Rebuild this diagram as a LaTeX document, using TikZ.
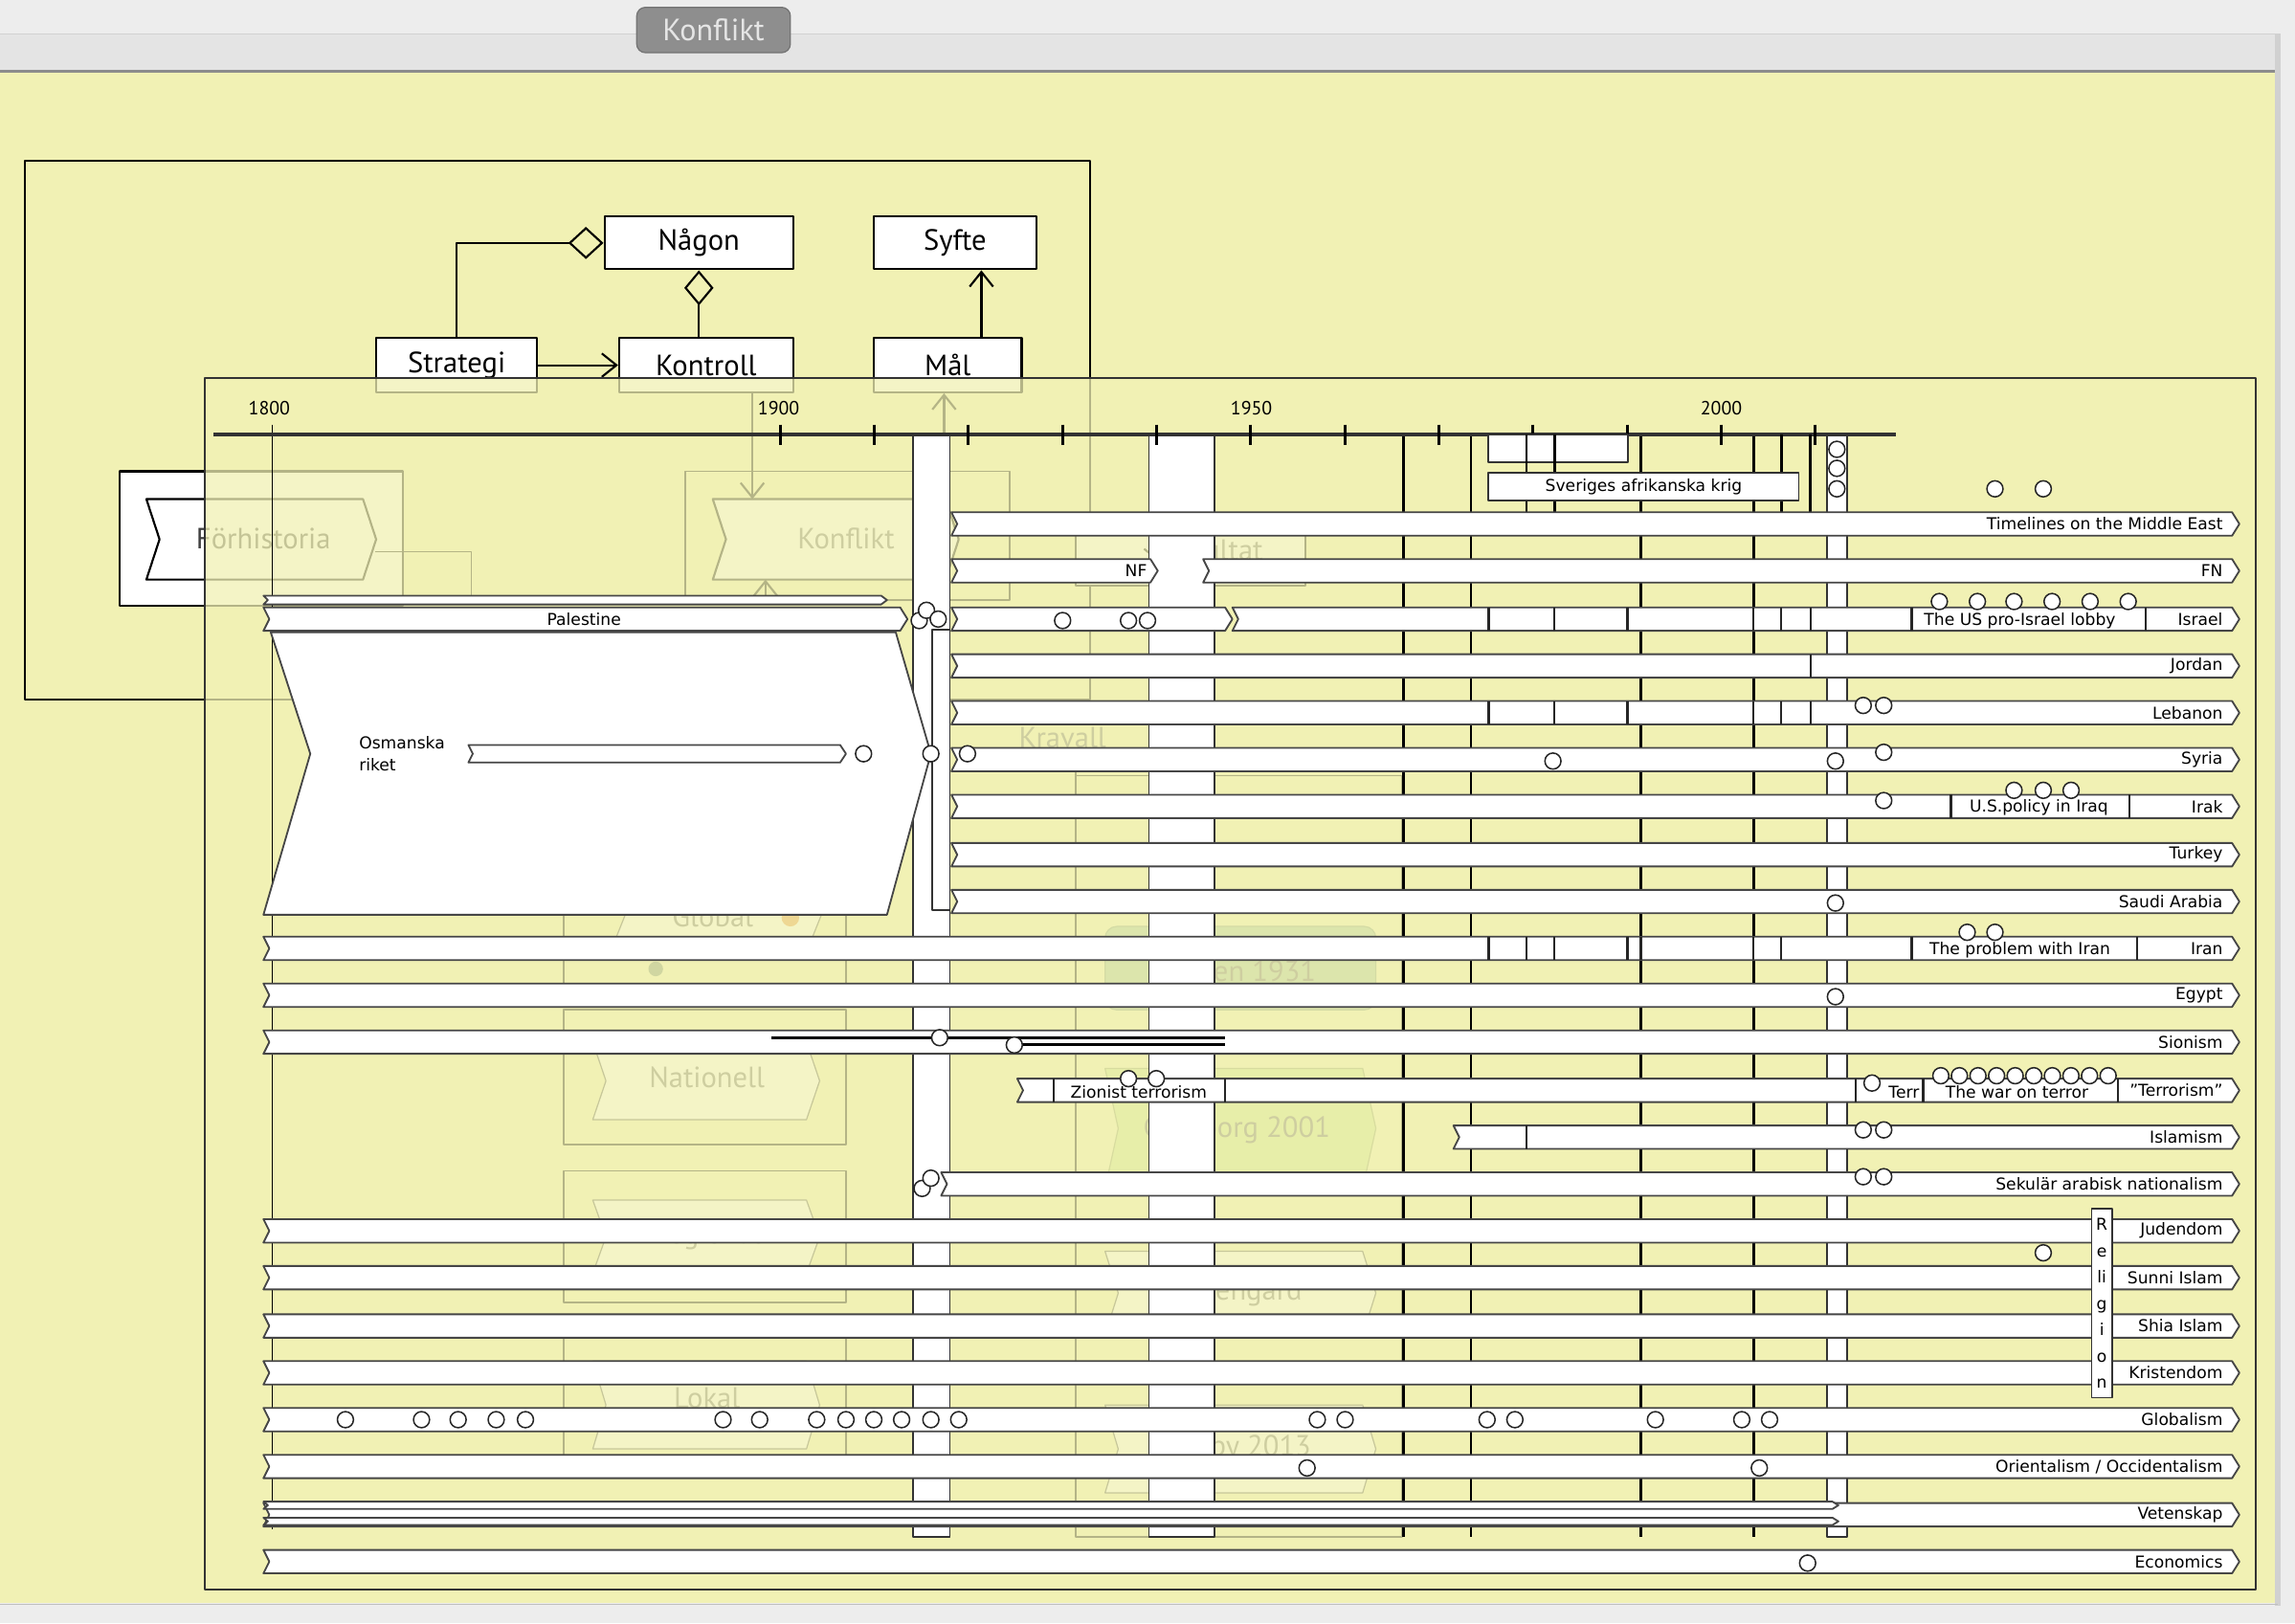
\documentclass[tikz,border=0pt]{standalone}
\usepackage{fontspec}
\setmainfont{DejaVu Sans}
\newfontfamily\ptsans{PT Sans}
\usetikzlibrary{arrows.meta,positioning,calc}
\definecolor{paneyellow}{RGB}{241,241,180}
\definecolor{chromegray}{RGB}{237,237,237}
\definecolor{bandgray}{RGB}{228,228,228}
\definecolor{tabgray}{RGB}{142,142,142}
\definecolor{lanegray}{RGB}{70,70,70}
\definecolor{fadegreen}{RGB}{160,195,150}
\definecolor{softgreen}{RGB}{205,230,140}
\definecolor{dotorange}{RGB}{232,140,50}
\newcommand{\lanefont}{\fontsize{5.6}{6.5}\selectfont}
\newcommand{\umlfont}{\ptsans\fontsize{10}{12}\selectfont}
\newcommand{\yearfont}{\ptsans\fontsize{6.5}{7}\selectfont}
% a timeline lane: start x, end x, centre y
\newcommand{\lane}[3]{\draw[lane] (#1,#3-8) -- (#2-5,#3-8) -- (#2,#3) -- (#2-5,#3+8) -- (#1,#3+8) -- (#1+4,#3) -- cycle;}
% dividers inside a lane
\newcommand{\cuts}[2]{\foreach \c in {#2} \draw[cut] (\c,#1-8) -- (\c,#1+8);}
% process chevron: x1, x2, top, bottom
\newcommand{\procchev}[5][fill=white]{\draw[#1] (#2,#4) -- (#3-9,#4) -- (#3,{(#4+#5)/2}) -- (#3-9,#5) -- (#2,#5) -- (#2+9,{(#4+#5)/2}) -- cycle;}
\tikzset{
  lane/.style={draw=lanegray, fill=white, line width=0.6pt},
  cut/.style={draw=black!85, line width=0.8pt},
  evt/.style={circle, draw=black!85, fill=white, line width=0.5pt, inner sep=0pt, minimum size=5.5pt},
  lanelbl/.style={font=\lanefont, anchor=east, inner sep=0pt},
  boxlbl/.style={font=\lanefont, inner sep=0pt},
  yearlbl/.style={font=\yearfont, inner sep=0pt},
  umlbox/.style={draw, fill=white, font=\umlfont, inner sep=0pt, line width=0.7pt},
  proclbl/.style={font=\umlfont, text=black!60, inner sep=0pt},
  column/.style={draw=black!80, fill=white, line width=0.6pt},
  barb/.style={-{Straight Barb[length=5pt,width=8pt]}, line width=0.7pt},
  tab/.style={rounded corners=3pt, fill=tabgray, draw=black!55, text=white!90!black,
    font=\ptsans\fontsize{10.5}{12}\selectfont, minimum width=52.5pt, minimum height=15.5pt}
}
\begin{document}
\begin{tikzpicture}[x=0.5pt, y=-0.5pt, line join=round]
  \useasboundingbox (0,0) rectangle (1568,1109);
  % window chrome
  \fill[chromegray] (0,0) rectangle (1568,1109);
  \fill[bandgray] (0,23) rectangle (1556,48);
  \draw[black!18] (0,23) -- (1556,23);
  \fill[paneyellow] (0,49) rectangle (1554,1095);
  \draw[black!45, line width=1pt] (0,48.5) -- (1556,48.5);
  \draw[black!18, line width=2pt] (1556,23) -- (1556,1097);
  \draw[black!25] (0,1096) -- (1556,1096);
  \node[tab] (tab) at (487.5,20.5) {Konflikt};

  % class diagram
  \draw[line width=0.7pt] (17,110) rectangle (745,478);
  \node[umlbox, minimum width=64.5pt, minimum height=18pt] (nagon) at (477.5,166) {Någon};
  \node[umlbox, minimum width=55.5pt, minimum height=18pt] (syfte) at (652.5,166) {Syfte};
  \node[umlbox, minimum width=55pt, minimum height=18.5pt] (strategi) at (312,249.5) {Strategi};
  \node[umlbox, minimum width=59.5pt, minimum height=18.5pt] (kontroll) at (482.5,249.5) {Kontroll};
  \node[umlbox, minimum width=50.5pt, minimum height=18.5pt] (mal) at (647.5,249.5) {Mål};
  \draw[line width=0.7pt, -{Diamond[open, length=12pt, width=11pt]}] (strategi.north) |- (nagon.west);
  \draw[line width=0.7pt, -{Diamond[open, length=12pt, width=10pt]}] (nagon.south |- kontroll.north) -- (nagon.south);
  \draw[barb] (strategi.east) -- (kontroll.west);
  \draw[barb] ([xshift=11.5pt]mal.north) -- ([xshift=11.5pt]mal.north |- syfte.south);

  % process chains behind the timeline
  \filldraw[fill=white, line width=0.7pt] (82,322) rectangle (275,414);
  \procchev[fill=white, line width=0.7pt]{100}{257}{341}{396}
  \node[proclbl, text=black!75] (forhist) at (180,368) {Förhistoria};
  \coordinate (forhistout) at (256,377);
  \coordinate (palestop) at (322,407);
  \draw[line width=0.6pt] (forhistout) -| (palestop);
  \draw[line width=0.6pt] (468,322) rectangle (690,410);
  \procchev[fill=white, line width=0.7pt]{487}{655}{341}{396}
  \node[proclbl] (konflikt) at (578,368) {Konflikt};
  \coordinate (konfltop) at (514,341);
  \coordinate (konflbot) at (523,396);
  \coordinate (konflfoot) at (523,410);
  \draw[barb] (kontroll.south -| konfltop) -- (konfltop);
  \draw[barb] (konflfoot) -- (konflbot);
  \coordinate (malfoot) at (645,297);
  \draw[barb] (malfoot) -- (mal.south -| malfoot);
  \filldraw[fill=white, line width=0.6pt] (735,362) rectangle (892,400);
  \node[proclbl] (resultat) at (828,376) {Resultat};
  \coordinate (konflout) at (655,383);
  \draw[barb] (konflout) -- (resultat.west |- konflout);
  \node[proclbl] (kravall) at (726,504) {Kravall};
  \draw[line width=0.6pt] (735,530) rectangle (958,1050);
  \coordinate (kravfoot) at (735,585);
  \draw[barb] (kravfoot) -- (kravall.south -| kravfoot);
  \filldraw[fill=fadegreen, draw=fadegreen!80!black, rounded corners=4pt] (755,633) rectangle (940,690);
  \node[proclbl] (adalen) at (845,662) {Ådalen 1931};
  \procchev[fill=softgreen, draw=softgreen!70!black]{755}{940}{730}{812}
  \node[proclbl] (gbg) at (845,772) {Göteborg 2001};
  \procchev[fill=white, draw=black!70]{755}{940}{855}{912}
  \node[proclbl] (rosen) at (845,883) {Rosengård};
  \procchev[fill=white, draw=black!70]{755}{940}{960}{1020}
  \node[proclbl] (husby) at (845,990) {Husby 2013};
  \draw[line width=0.6pt] (385,585) rectangle (578,680);
  \procchev[fill=white, draw=black!70]{418}{561}{603}{648}
  \node[proclbl] (globalproc) at (487,626) {Global};
  \fill[dotorange] (540,627) circle (6);
  \fill[fadegreen!70!black] (448,662) circle (5);
  \draw[line width=0.6pt] (385,690) rectangle (578,782);
  \procchev[fill=white, draw=black!70]{405}{560}{712}{765}
  \node[proclbl] (nationell) at (483,736) {Nationell};
  \draw[line width=0.6pt] (385,800) rectangle (578,890);
  \procchev[fill=white, draw=black!70]{405}{560}{820}{870}
  \node[proclbl] (regional) at (483,845) {Regional};
  \draw[line width=0.6pt] (385,910) rectangle (578,1000);
  \procchev[fill=white, draw=black!70]{405}{560}{930}{990}
  \node[proclbl] (lokal) at (483,955) {Lokal};

  % timeline frame over it all
  \filldraw[fill=paneyellow, fill opacity=0.75, draw=black!80, line width=0.7pt] (140,258) rectangle (1541,1086);

  % grid and columns
  \draw[line width=0.6pt] (186,290) -- (186,1045);
  \foreach \x in {959,1005,1121,1198} \draw[line width=0.9pt] (\x,297) -- (\x,1050);
  \draw[column] (624,297) rectangle (649,1050);
  \draw[column] (785,297) rectangle (830,1050);
  \draw[column] (1248,297) rectangle (1262,1050);
  \draw[line width=1.3pt, black!80] (146,297) -- (1295,297);
  \foreach \k in {0,...,11} \draw[line width=0.9pt] ({533+64.3*\k},290) -- ({533+64.3*\k},304);
  \node[yearlbl] (y1800) at (184,279) {1800};
  \node[yearlbl] (y1900) at (532,279) {1900};
  \node[yearlbl] (y1950) at (855,279) {1950};
  \node[yearlbl] (y2000) at (1176,279) {2000};

  % top events
  \draw[column] (1017,297) rectangle (1112,316);
  \foreach \x in {1043,1062,1217,1237} \draw[line width=0.9pt] (\x,297) -- (\x,350);
  \node[draw=black!80, fill=white, line width=0.6pt, boxlbl, minimum width=106pt, minimum height=9.5pt] (afrika) at (1123,332.5) {Sveriges afrikanska krig};
  \foreach \y [count=\i] in {307,320,334} \node[evt] (stack\i) at (1255,\y) {};
  \node[evt] (top1) at (1363,334) {};
  \node[evt] (top2) at (1396,334) {};

  % lanes
  \foreach \y/\x/\t/\n in {358/650/Timelines on the Middle East/tlme, 390/822/FN/fn,
      423/842/Israel/israel, 455/650/Jordan/jordan, 487/650/Lebanon/lebanon,
      519/650/Syria/syria, 551/650/Irak/irak, 584/650/Turkey/turkey,
      616/650/Saudi Arabia/saudi, 648/180/Iran/iran, 680/180/Egypt/egypt,
      712/180/Sionism/sionism, 745/695/"Terrorism"/terror, 777/993/Islamism/islamism,
      809/643/Sekulär arabisk nationalism/sekular, 841/180/Judendom/judendom,
      873/180/Sunni Islam/sunni, 906/180/Shia Islam/shia, 938/180/Kristendom/krist,
      970/180/Globalism/globalism, 1002/180/{Orientalism / Occidentalism}/orient,
      1035/180/Vetenskap/vetensk, 1067/180/Economics/econ}
  {
    \lane{\x}{1530}{\y}
    \node[lanelbl] (\n) at (1519,\y) {\t};
  }
  \lane{650}{791}{390}
  \node[lanelbl] (nf) at (784,390) {NF};
  \lane{650}{842}{423}
  \draw[lane] (180,407) -- (602,407) -- (606,410) -- (602,413) -- (180,413) -- (183,410) -- cycle;
  \draw[lane] (185,432) -- (612,432) -- (636,515) -- (606,625) -- (180,625) -- (212,515) -- cycle;
  \draw[lane] (180,415) -- (615,415) -- (620,423) -- (615,431) -- (180,431) -- (184,423) -- cycle;
  \node[boxlbl] (palestine) at (399,423) {Palestine};
  \node[font=\lanefont, align=left, anchor=west, inner sep=0pt] (osman) at (245,515) {Osmanska\\[1pt]riket};
  \draw[lane] (320,509) -- (574,509) -- (578,515) -- (574,521) -- (320,521) -- (323,515) -- cycle;
  \draw[column] (637,430) rectangle (649,622);
  \draw[lane] (180,1026) -- (1252,1026) -- (1256,1028.5) -- (1252,1031) -- (180,1031) -- (183,1028.5) -- cycle;
  \draw[lane] (180,1037) -- (1252,1037) -- (1256,1039.5) -- (1252,1042) -- (180,1042) -- (183,1039.5) -- cycle;

  % periods inside lanes
  \cuts{423}{1017,1062,1112,1198,1217,1237,1306,1466}
  \cuts{455}{1237}
  \cuts{487}{1017,1062,1112,1198,1217,1237}
  \cuts{551}{1333,1455}
  \cuts{648}{1017,1043,1062,1112,1121,1198,1217,1306,1460}
  \cuts{745}{720,837,1268,1314,1447}
  \cuts{777}{1043}
  \node[boxlbl] (lobby) at (1380,424) {The US pro-Israel lobby};
  \node[boxlbl] (iraqpol) at (1393,552) {U.S.policy in Iraq};
  \node[boxlbl] (iranprob) at (1380,649) {The problem with Iran};
  \node[boxlbl] (ziontr) at (778,746) {Zionist terrorism};
  \node[boxlbl, anchor=west] (terr) at (1290,746) {Terr};
  \node[boxlbl] (waronterror) at (1378,746) {The war on terror};
  \node[draw=black!80, fill=white, line width=0.6pt, inner sep=0pt, minimum width=7pt, minimum height=64.5pt,
    font=\fontsize{5.6}{9}\selectfont, align=center] (religion) at (1436,890.5) {R\\e\\li\\g\\i\\o\\n};

  % Sionism double line
  \draw[line width=1pt] (527,709) -- (837,709);
  \draw[line width=1pt] (693,714) -- (837,714);

  % events
  \foreach \x/\y [count=\i] in {628/424, 633/417, 641/423, 590/515, 636/515, 726/424, 771/424, 784/424,
      661/515, 1061/520, 1254/520, 1287/514, 1287/547, 1254/617, 1254/681, 1273/482, 1287/482,
      642/709, 693/714, 771/737, 790/737, 1279/740, 1273/772, 1287/772, 1273/804, 1287/804,
      630/812, 636/805, 1396/856, 893/1003, 1202/1003, 1235/1068}
    \node[evt] (ev\i) at (\x,\y) {};
  \foreach \x [count=\i] in {1325,1351,1376,1402,1428,1454} \node[evt] (lobby\i) at (\x,411) {};
  \foreach \x [count=\i] in {1376,1396,1415} \node[evt] (iraq\i) at (\x,540) {};
  \foreach \x [count=\i] in {1344,1363} \node[evt] (iran\i) at (\x,637) {};
  \foreach \k in {0,...,9} \node[evt] (wot\k) at ({1326+12.7*\k},735) {};
  \foreach \x [count=\i] in {236,288,313,339,359,494,519,558,578,597,616,636,655,900,919,1016,1035,1131,1190,1209}
    \node[evt, minimum width=4.5pt, minimum height=5.5pt] (glob\i) at (\x,970) {};
\end{tikzpicture}
\end{document}
